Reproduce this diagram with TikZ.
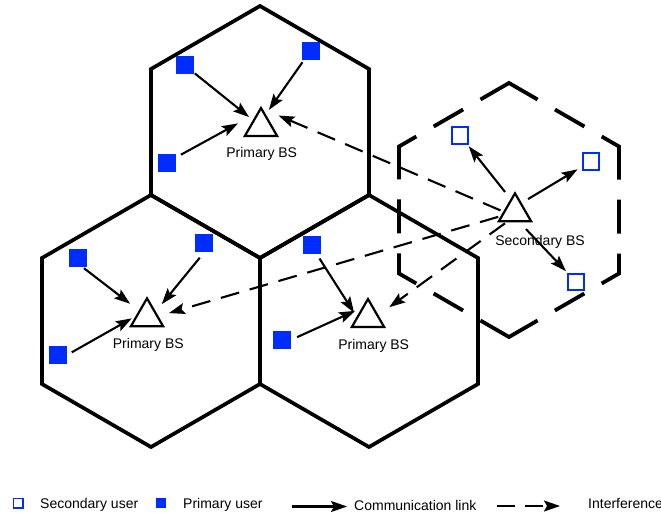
\documentclass[tikz,border=0pt]{standalone}
\usepackage{fontspec}
\setmainfont{Liberation Sans}
\usetikzlibrary{shapes.geometric,arrows.meta}
\definecolor{pblue}{RGB}{0,45,255}
\begin{document}
\begin{tikzpicture}[x=1pt,y=-1pt,
  hexline/.style={line width=3.7pt,line join=miter},
  bs/.style={regular polygon,regular polygon sides=3,draw,line width=2.2pt,minimum size=37.3pt,inner sep=0pt,outer sep=0pt},
  pu/.style={rectangle,fill=pblue,minimum size=18pt,inner sep=0pt,outer sep=0pt},
  su/.style={rectangle,draw=pblue,line width=2pt,minimum size=16.5pt,inner sep=0pt,outer sep=0pt,fill=white},
  lbl/.style={anchor=base,font=\fontsize{14}{16}\selectfont,inner sep=0pt},
  link/.style={line width=2.1pt,-{Stealth[length=16pt,width=11pt,inset=3pt]}},
  intf/.style={link,dash pattern=on 19pt off 11pt},
]
\useasboundingbox (0,0) rectangle (661,516);
\clip (0,0) rectangle (661,516);

% primary cells
\draw[hexline] (260,6) -- (151,69) -- (151,195) -- (260,258) -- (369,195) -- (369,69) -- cycle;
\draw[hexline] (151,195) -- (42,258) -- (42,384) -- (151,447) -- (260,384) -- (260,258) -- cycle;
\draw[hexline] (369,195) -- (260,258) -- (260,384) -- (369,447) -- (478,384) -- (478,258) -- cycle;

% secondary cell (dashed)
\draw[line width=3.8pt,line join=miter,
  dash pattern=on 34pt off 20pt on 53pt off 20pt on 34pt off 20pt on 40pt off 20pt on 34pt off 20pt on 66pt off 20pt on 34pt off 20pt on 40pt off 20pt on 34pt off 20pt on 53pt off 20pt on 34pt off 20pt on 66pt off 20pt,
  dash phase=752pt]
  (471.76,104.5) -- (399,146.5) -- (399,273.5) -- (509,337) -- (619,273.5) -- (619,146.5) -- (509,83) -- (471.76,104.5);

% base stations
\node[bs] (bs1) at (261,126.7) {};
\node[bs] (bs2) at (147,317) {};
\node[bs] (bs3) at (368,317.7) {};
\node[bs] (sbs) at (515,212) {};

\node[lbl] (l1) at (261.7,157.3) {Primary BS};
\node[lbl] (l2) at (148.3,348.7) {Primary BS};
\node[lbl] (l3) at (373.7,349.5) {Primary BS};
\node[lbl] (l4) at (540,245.7) {Secondary BS};

% primary users
\node[pu] (s1) at (185,65.5) {};
\node[pu] (s2) at (310.5,50.8) {};
\node[pu] (s3) at (166.7,162.5) {};
\node[pu] (p4) at (77.8,257.7) {};
\node[pu] (p5) at (204.2,243.3) {};
\node[pu] (p6) at (57.5,355.3) {};
\node[pu] (p7) at (311.8,245.3) {};
\node[pu] (p8) at (281.8,340) {};

% secondary users
\node[su] (u1) at (460,135.3) {};
\node[su] (u2) at (591,161.3) {};
\node[su] (u3) at (576.2,282) {};

% communication links
\draw[link,shorten <=1pt,shorten >=5.9pt] (s1) -- (bs1.141);
\draw[link,shorten <=3pt,shorten >=6.5pt] (s2) -- (bs1.70);
\draw[link,shorten <=6pt,shorten >=23.6pt] (s3) -- (bs1.99);
\draw[link,shorten <=2.5pt,shorten >=12pt] (p4.-65) -- (bs2.141);
\draw[link,shorten <=7pt,shorten >=10.6pt] (p5.south) -- (bs2.30);
\draw[link,shorten <=6pt,shorten >=6.3pt] (p6.east) -- (bs2.170);
\draw[link,shorten <=5pt,shorten >=5.9pt] (p7.-61) -- (bs3.180);
\draw[link,shorten <=7pt,shorten >=9pt] (p8.east) -- (bs3.114);
\draw[link,shorten <=10pt,shorten >=3.5pt] (sbs.107) -- (u1);
\draw[link,shorten <=8.4pt,shorten >=6pt] (sbs.56) -- (u2);
\draw[link,shorten <=10.7pt,shorten >=3.5pt] (sbs.291) -- (u3);

% interference
\draw[intf,shorten <=4pt,shorten >=19pt] (sbs.180) -- (bs1.90);
\draw[intf,shorten <=4pt,shorten >=12pt] (sbs.196) -- (bs2.3);
\draw[intf,shorten <=3.4pt,shorten >=14.4pt] (sbs.232) -- (bs3.12);

% legend
\node[su,minimum size=9.5pt,line width=1.5pt] (lsu) at (18,503) {};
\node[lbl,anchor=base west] (lt1) at (40,508.3) {Secondary user};
\node[pu,minimum size=10.5pt] (lpu) at (161,503) {};
\node[lbl,anchor=base west] (lt2) at (183,508.3) {Primary user};
\coordinate (la1) at (292,506.5);
\coordinate (la2) at (347,506.5);
\draw[link] (la1) -- (la2);
\node[lbl,anchor=base west] (lt3) at (354,510.3) {Communication link};
\coordinate (lb1) at (497,506);
\coordinate (lb2) at (560,506);
\draw[intf,dash pattern=on 18pt off 10pt] (lb1) -- (lb2);
\node[lbl,anchor=base west] (lt4) at (588,508.3) {Interference};
\end{tikzpicture}
\end{document}
